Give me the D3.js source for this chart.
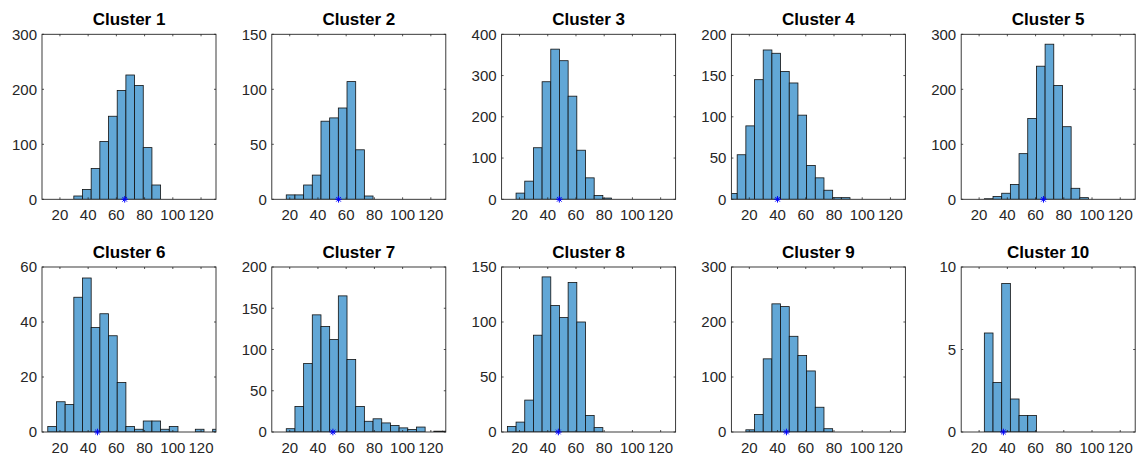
<!DOCTYPE html>
<html>
<head>
<meta charset="utf-8">
<script src="https://cdn.jsdelivr.net/npm/d3@7"></script>
<style>
  body { margin: 0; background: #fff; }
  text { font-family: "Liberation Sans", Arial, sans-serif; }
</style>
</head>
<body>
<script>
// histogram bin edges (shared by all clusters) and x limits
const binEdges = [5.25, 11.4, 17.55, 23.7, 29.85, 36.0, 42.15, 48.3, 54.45, 60.6, 66.75,
    72.9, 79.05, 85.2, 91.35, 97.5, 103.65, 109.8, 115.95, 122.1, 128.25, 134.4];
const xLimits = [7.3, 130.6];
const xTicks = [20, 40, 60, 80, 100, 120];

const titles = ["Cluster 1", "Cluster 2", "Cluster 3", "Cluster 4", "Cluster 5",
    "Cluster 6", "Cluster 7", "Cluster 8", "Cluster 9", "Cluster 10"];

// counts per bin (21 bins)
const counts1 = [0, 0, 0, 0, 6, 18, 56, 105, 151, 198, 226, 207, 94, 26, 0, 0, 0, 0, 0, 0, 0];
const counts2 = [0, 0, 4, 4, 13, 22, 71, 74, 83, 107, 45, 3, 0, 0, 0, 0, 0, 0, 0, 0, 0];
const counts3 = [0, 0, 15, 44, 125, 285, 364, 336, 250, 119, 52, 9, 3, 0, 0, 0, 0, 0, 0, 0, 0];
const counts4 = [7, 54, 89, 145, 181, 177, 155, 141, 102, 41, 26, 11, 2, 2, 0, 0, 0, 0, 0, 0, 0];
const counts5 = [0, 0, 0, 1, 5, 11, 27, 83, 147, 242, 282, 207, 132, 20, 3, 0, 0, 0, 0, 0, 0];
const counts6 = [0, 2, 11, 10, 49, 56, 38, 43, 35, 18, 2, 1, 4, 4, 1, 2, 0, 0, 1, 0, 1];
const counts7 = [0, 0, 4, 31, 83, 142, 128, 112, 165, 88, 31, 13, 16, 11, 8, 5, 3, 6, 0, 1, 1];
const counts8 = [0, 5, 9, 29, 88, 141, 115, 104, 136, 100, 15, 4, 0, 0, 0, 0, 0, 0, 0, 0, 0];
const counts9 = [0, 0, 4, 32, 133, 233, 228, 174, 139, 111, 45, 6, 0, 0, 0, 0, 0, 0, 0, 0, 0];
const counts10 = [0, 0, 0, 6, 3, 9, 2, 1, 1, 0, 0, 0, 0, 0, 0, 0, 0, 0, 0, 0, 0];
const allCounts = [counts1, counts2, counts3, counts4, counts5, counts6, counts7, counts8, counts9, counts10];

// cluster centre (blue star) and y axis limits
const centers = [65.9, 54.6, 48.2, 40.0, 65.6, 46.6, 50.6, 47.5, 46.3, 37.2];
const yMax = [300, 150, 400, 200, 300, 60, 200, 150, 300, 10];
const yStep = [100, 50, 100, 50, 100, 20, 50, 50, 100, 5];

const W = 1140, H = 456;
const left0 = 42, colStep = 229.8, plotW = 174, plotH = 165;
const rowTops = [34.3, 267];
const axisColor = "#262626";
const tickLen = 2;

const svg = d3.select("body")
    .append("svg")
    .attr("width", W)
    .attr("height", H);

titles.forEach((title, k) => {
    const col = k % 5, row = Math.floor(k / 5);
    const x0 = left0 + col * colStep, y0 = rowTops[row];
    const counts = allCounts[k];

    const x = d3.scaleLinear().domain(xLimits).range([0, plotW]);
    const y = d3.scaleLinear().domain([0, yMax[k]]).range([plotH, 0]);
    const yTicks = d3.range(0, yMax[k] + 1e-9, yStep[k]);

    const g = svg.append("g").attr("transform", `translate(${x0},${y0})`);

    g.append("clipPath").attr("id", "clip" + k)
        .append("rect").attr("width", plotW).attr("height", plotH);

    const bins = counts.map((c, i) => ({ x1: binEdges[i], x2: binEdges[i + 1], c: c }))
        .filter(d => d.c > 0);

    g.append("g")
        .attr("clip-path", `url(#clip${k})`)
        .selectAll("rect")
        .data(bins)
        .enter()
        .append("rect")
        .attr("x", d => x(d.x1))
        .attr("width", d => x(d.x2) - x(d.x1))
        .attr("y", d => y(d.c))
        .attr("height", d => y(0) - y(d.c))
        .attr("fill", "#62a7d6")
        .attr("stroke", "#111")
        .attr("stroke-width", 0.8);

    // box
    g.append("rect")
        .attr("width", plotW)
        .attr("height", plotH)
        .attr("fill", "none")
        .attr("stroke", axisColor)
        .attr("stroke-width", 0.9);

    // ticks inside on all sides
    xTicks.forEach(t => {
        g.append("line").attr("x1", x(t)).attr("x2", x(t)).attr("y1", plotH).attr("y2", plotH - tickLen)
            .attr("stroke", axisColor).attr("stroke-width", 0.8);
        g.append("line").attr("x1", x(t)).attr("x2", x(t)).attr("y1", 0).attr("y2", tickLen)
            .attr("stroke", axisColor).attr("stroke-width", 0.8);
    });
    yTicks.forEach(t => {
        g.append("line").attr("x1", 0).attr("x2", tickLen).attr("y1", y(t)).attr("y2", y(t))
            .attr("stroke", axisColor).attr("stroke-width", 0.8);
        g.append("line").attr("x1", plotW).attr("x2", plotW - tickLen).attr("y1", y(t)).attr("y2", y(t))
            .attr("stroke", axisColor).attr("stroke-width", 0.8);
    });

    // tick labels
    g.selectAll(".xl")
        .data(xTicks)
        .enter()
        .append("text")
        .attr("x", d => x(d))
        .attr("y", plotH + 20.5)
        .attr("text-anchor", "middle")
        .attr("font-size", 15)
        .attr("fill", axisColor)
        .text(d => d);

    g.selectAll(".yl")
        .data(yTicks)
        .enter()
        .append("text")
        .attr("x", -5)
        .attr("y", d => y(d))
        .attr("dy", "0.36em")
        .attr("text-anchor", "end")
        .attr("font-size", 15)
        .attr("fill", axisColor)
        .text(d => d);

    // title
    g.append("text")
        .attr("x", plotW / 2)
        .attr("y", -9.5)
        .attr("text-anchor", "middle")
        .attr("font-size", 17)
        .attr("font-weight", "bold")
        .attr("fill", "#000")
        .text(title);

    // centre marker '*'
    const cx = x(centers[k]), cy = y(0), r = 3.3;
    const star = g.append("g").attr("stroke", "#0000ff").attr("stroke-width", 1);
    star.append("line").attr("x1", cx - r).attr("x2", cx + r).attr("y1", cy).attr("y2", cy);
    star.append("line").attr("x1", cx).attr("x2", cx).attr("y1", cy - r).attr("y2", cy + r);
    star.append("line").attr("x1", cx - r * 0.7).attr("x2", cx + r * 0.7).attr("y1", cy - r * 0.7).attr("y2", cy + r * 0.7);
    star.append("line").attr("x1", cx - r * 0.7).attr("x2", cx + r * 0.7).attr("y1", cy + r * 0.7).attr("y2", cy - r * 0.7);
});
</script>
</body>
</html>
